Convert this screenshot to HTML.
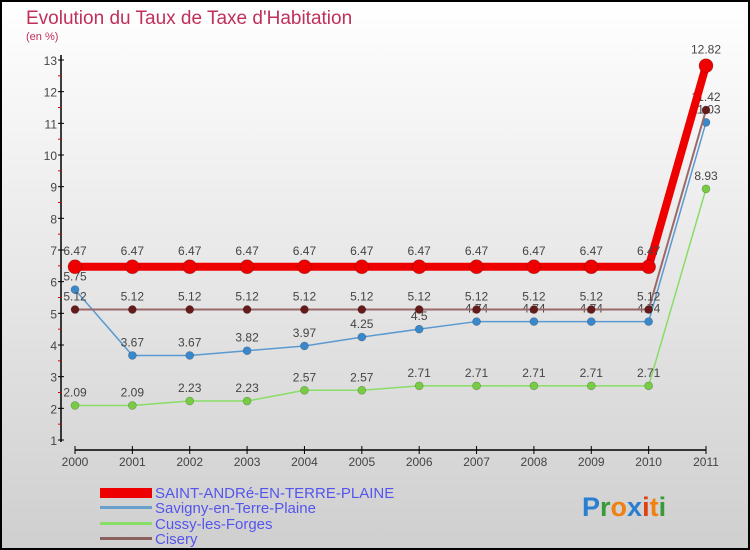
<!DOCTYPE html>
<html><head><meta charset="utf-8"><style>
body{margin:0;width:750px;height:550px;overflow:hidden;font-family:"Liberation Sans",sans-serif}
svg{display:block}
</style></head><body>
<svg width="750" height="550">
<defs><linearGradient id="bg" x1="0" y1="0" x2="0" y2="1"><stop offset="0" stop-color="#ffffff"/><stop offset="1" stop-color="#cfcfcf"/></linearGradient></defs>
<rect x="1" y="1" width="748" height="548" fill="url(#bg)" stroke="#000" stroke-width="2"/>
<text x="26" y="24" font-size="19" fill="#c0305a">Evolution du Taux de Taxe d'Habitation</text>
<text x="26" y="40" font-size="11" fill="#c0305a">(en %)</text>
<g id="axes"></g>
<g id="series"></g>
<g id="legend" font-size="15" fill="#5555ee">
<rect x="100" y="488" width="52" height="10" fill="#ee0000"/>
<text x="155" y="498">SAINT-ANDRé-EN-TERRE-PLAINE</text>
<rect x="100" y="506" width="52" height="3" fill="#6aa0cc"/>
<text x="155" y="513">Savigny-en-Terre-Plaine</text>
<rect x="100" y="522" width="52" height="3" fill="#88dd66"/>
<text x="155" y="529">Cussy-les-Forges</text>
<rect x="100" y="537" width="52" height="3" fill="#8a6060"/>
<text x="155" y="544">Cisery</text>
</g>
<text x="582" y="516" font-size="27" font-weight="bold"><tspan fill="#2a7fd0">P</tspan><tspan fill="#3a9a3a">r</tspan><tspan fill="#f08010">o</tspan><tspan fill="#2a7fd0">x</tspan><tspan fill="#e04010">i</tspan><tspan fill="#f08010">t</tspan><tspan fill="#3a9a3a">i</tspan></text>
</svg>
<script>
const years=[2000,2001,2002,2003,2004,2005,2006,2007,2008,2009,2010,2011];
const yTicks=[1,2,3,4,5,6,7,8,9,10,11,12,13];
const saintAndre=[6.47,6.47,6.47,6.47,6.47,6.47,6.47,6.47,6.47,6.47,6.47,12.82];
const savigny=[5.75,3.67,3.67,3.82,3.97,4.25,4.5,4.74,4.74,4.74,4.74,11.03];
const cussy=[2.09,2.09,2.23,2.23,2.57,2.57,2.71,2.71,2.71,2.71,2.71,8.93];
const cisery=[5.12,5.12,5.12,5.12,5.12,5.12,5.12,5.12,5.12,5.12,5.12,11.42];
const NS="http://www.w3.org/2000/svg";
const xs=i=>75+i*(706-75)/11;
const ys=v=>440-(v-1)*(380/12);
function mk(tag,attrs,parent,txt){const e=document.createElementNS(NS,tag);for(const k in attrs)e.setAttribute(k,attrs[k]);if(txt!=null)e.textContent=txt;parent.appendChild(e);return e;}
const ax=document.getElementById('axes');
let e=mk('line',{x1:61,y1:55,x2:61,y2:442,stroke:'#000','stroke-width':1.5},ax);


yTicks.forEach(t=>{const y=ys(t);
 const l=mk('line',{x1:58,y1:y,x2:64,y2:y,stroke:'#000'},ax);
 
 
 const tx=mk('text',{x:57,y:y+5,'text-anchor':'end','font-size':12,fill:'#444'},ax,String(t));
 
 
 if(t<13){const m=mk('line',{x1:58,y1:ys(t+0.5),x2:61,y2:ys(t+0.5),stroke:'#d00'},ax);
 
 }
});
e=mk('line',{x1:75,y1:450,x2:706,y2:450,stroke:'#000','stroke-width':1.5},ax);


years.forEach((yr,i)=>{const x=xs(i);
 const l=mk('line',{x1:x,y1:446,x2:x,y2:454,stroke:'#000'},ax);
 
 
 const tx=mk('text',{x:x,y:466,'text-anchor':'middle','font-size':12,fill:'#444'},ax,String(yr));
 
 
});
const sg=document.getElementById('series');
function series(name,data,color,pcolor,w,r){
 const g=mk('g',{},sg);
 
 
 const p=mk('polyline',{points:data.map((v,i)=>xs(i)+','+ys(v)).join(' '),fill:'none',stroke:color,'stroke-width':w,'stroke-linejoin':'round'},g);
 
 
 data.forEach((v,i)=>{
  const c=mk('circle',{cx:xs(i),cy:ys(v),r:r,fill:pcolor,stroke:'rgba(0,0,0,0.25)','stroke-width':0.7},g);
  
  
  const t=mk('text',{x:xs(i),y:ys(v)-(r+5),'text-anchor':'middle','font-size':12,fill:'#444'},g,String(v));
  
  
 });
}
series('cussy',cussy,'#88dd66','#77cc44',1.5,4);
series('savigny',savigny,'#5a9ad0','#3a88cc',1.5,4);
series('cisery',cisery,'#9a6a6a','#661a1a',2,4);
series('saint-andre',saintAndre,'#ee0000','#ee0000',8,7);
</script>
</body></html>
